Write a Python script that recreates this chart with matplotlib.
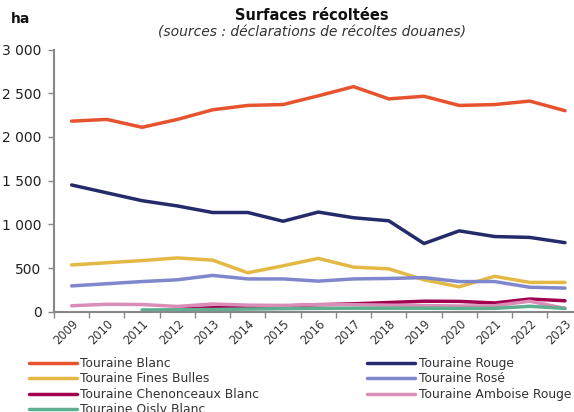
import matplotlib
matplotlib.use("Agg")
import matplotlib.pyplot as plt
from matplotlib.ticker import FuncFormatter, FixedLocator
import numpy as np

years = list(range(2009, 2024))
blanc = [2180, 2200, 2110, 2200, 2310, 2360, 2370, 2470, 2575, 2435, 2465, 2360, 2370, 2410, 2300]
rouge = [1450, 1360, 1270, 1210, 1135, 1135, 1035, 1140, 1075, 1040, 780, 925, 860, 850, 790]
fines_bulles = [535, 560, 585, 615, 590, 445, 525, 610, 510, 490, 365, 285, 405, 335, 335]
rose = [295, 320, 345, 365, 415, 375, 375, 350, 375, 380, 390, 345, 345, 280, 270]
chenonceaux = [None, None, None, 30, 45, 55, 65, 80, 90, 105, 120, 118, 100, 145, 125]
amboise = [68, 85, 82, 60, 88, 75, 72, 82, 80, 75, 70, 65, 68, 120, 38]
oisly = [None, None, 20, 22, 25, 30, 35, 38, 40, 40, 40, 38, 38, 62, 38]

series = [
    ("Touraine Blanc", blanc, "#E8532F"),
    ("Touraine Rouge", rouge, "#232B6B"),
    ("Touraine Fines Bulles", fines_bulles, "#E3B844"),
    ("Touraine Rosé", rose, "#7F87CD"),
    ("Touraine Chenonceaux Blanc", chenonceaux, "#A2004F"),
    ("Touraine Amboise Rouge", amboise, "#DA8DB6"),
    ("Touraine Oisly Blanc", oisly, "#5FAE8F"),
]

plt.rcParams['font.family'] = ['DejaVu Sans']
fig = plt.figure(figsize=(5.74, 4.12), dpi=100)
ax = fig.add_axes([54/574, 1 - 311.7/412, (582.6 - 54)/574, (311.7 - 49.5)/412])

x = np.arange(len(years))
handles = {}
for name, vals, col in series:
    v = np.array([np.nan if a is None else a for a in vals], dtype=float)
    h, = ax.plot(x, v, color=col, lw=2.5, solid_capstyle='round', label=name)
    handles[name] = h

ax.set_xlim(-0.5, len(years) - 0.5)
ax.set_ylim(0, 3000)
ax.set_yticks([0, 500, 1000, 1500, 2000, 2500, 3000])
ax.yaxis.set_major_formatter(FuncFormatter(lambda v, p: f"{int(v):,}".replace(",", " ")))
ax.set_xticks(x)
ax.set_xticklabels([str(y) for y in years], rotation=45, ha='right', rotation_mode='anchor', fontsize=8.3, color='#333333')
ax.xaxis.set_minor_locator(FixedLocator(np.arange(-0.5, len(years), 1.0)))
ax.tick_params(axis='x', which='major', length=0, pad=4)
ax.tick_params(axis='x', which='minor', length=4, color='#888888', width=1)
ax.tick_params(axis='y', length=4, color='#888888', width=1, labelsize=10, labelcolor='#222222', pad=5)
for s in ['top', 'right']:
    ax.spines[s].set_visible(False)
for s in ['left', 'bottom']:
    ax.spines[s].set_color('#888888')
    ax.spines[s].set_linewidth(1.5)

fig.text(311.5/574, 1 - 16/412, "Surfaces récoltées", ha='center', va='center', fontsize=10.5, fontweight='bold', color='#111111')
fig.text(311.5/574, 1 - 32/412, "(sources : déclarations de récoltes douanes)", ha='center', va='center', fontsize=10, style='italic', color='#333333')
fig.text(21/574, 1 - 19/412, "ha", ha='center', va='center', fontsize=10, fontweight='bold', color='#111111')

order = ["Touraine Blanc", "Touraine Fines Bulles", "Touraine Chenonceaux Blanc", "Touraine Oisly Blanc",
         "Touraine Rouge", "Touraine Rosé", "Touraine Amboise Rouge"]
leg = fig.legend([handles[n] for n in order], order, ncol=2, loc='upper left',
                 bbox_to_anchor=(28.5/574, 1 - 357/412), frameon=False, fontsize=8.9,
                 handlelength=3.9, handletextpad=0.3, columnspacing=8.7, labelspacing=0.2,
                 borderpad=0, borderaxespad=0)
for t in leg.get_texts():
    t.set_color('#333333')

fig.savefig("out.png", dpi=100)
